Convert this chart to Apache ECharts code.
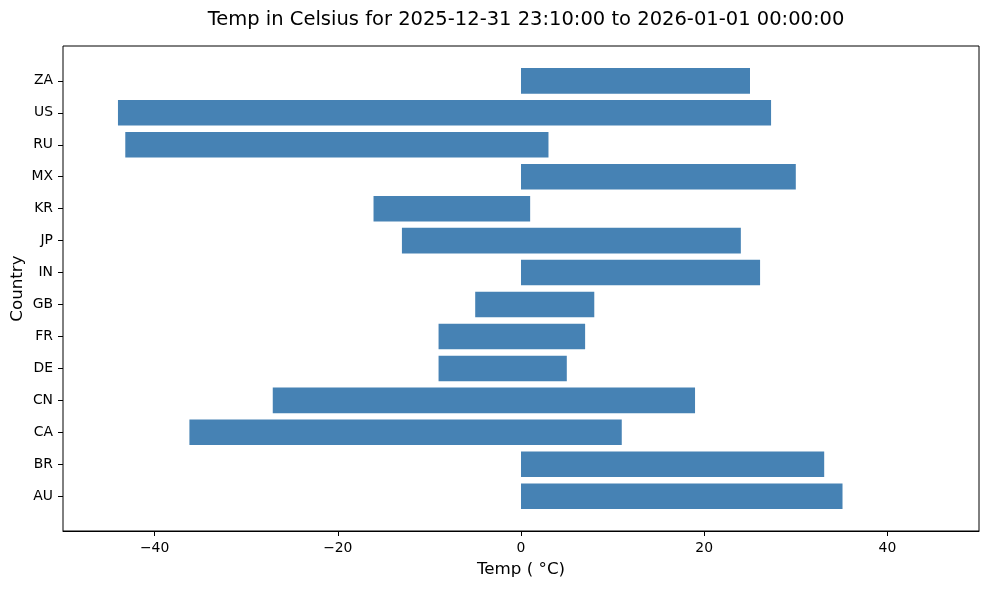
<!DOCTYPE html>
<html>
<head>
<meta charset="utf-8">
<script src="https://cdn.jsdelivr.net/npm/echarts@6/dist/echarts.min.js"></script>
<style>html,body{margin:0;padding:0;background:#fff;}#c{width:989px;height:590px;}</style>
</head>
<body>
<div id="c"></div>
<script>
const countries = ['AU','BR','CA','CN','DE','FR','GB','IN','JP','KR','MX','RU','US','ZA'];
const lowTemps  = [0, 0, -36.2, -27.1, -9, -9, -5, 0, -13, -16.1, 0, -43.2, -44, 0];
const highTemps = [35.1, 33.1, 11, 19, 5, 7, 8, 26.1, 24, 1, 30, 3, 27.3, 25];
const titleText = 'Temp in Celsius for 2025-12-31 23:10:00 to 2026-01-01 00:00:00';

const FONT = 'DejaVu Sans';
const chart = echarts.init(document.getElementById('c'), null, {renderer: 'canvas'});
const data = countries.map((c, i) => [lowTemps[i], highTemps[i], i]);

chart.setOption({
  animation: false,
  backgroundColor: '#fff',
  title: {
    text: titleText, left: 521, top: 5, textAlign: 'center',
    textStyle: {fontFamily: FONT, fontSize: 19.5, fontWeight: 'normal', color: '#000'}
  },
  grid: [
    {left: 63, right: 10, top: 64.9, bottom: 77.8, show: false, containLabel: false, outerBoundsMode: 'none'},
    {left: 63, right: 10, top: 46, bottom: 59, show: true, borderColor: '#000', borderWidth: 1,
     backgroundColor: 'transparent', containLabel: false, outerBoundsMode: 'none'}
  ],
  xAxis: [
    {gridIndex: 0, type: 'value', min: -50, max: 50, show: false},
    {gridIndex: 1, type: 'value', min: -50, max: 50,
     splitLine: {show: false},
     axisLine: {show: true, onZero: false, lineStyle: {color: '#000', width: 1}},
     axisTick: {show: true, length: 5, lineStyle: {color: '#000'}},
     axisLabel: {showMinLabel: false, showMaxLabel: false, margin: 10, color: '#000', fontFamily: FONT, fontSize: 13.9,
       formatter: v => String(v).replace('-', '\u2212')},
     name: 'Temp ( \u00b0C)', nameLocation: 'middle', nameGap: 30, nameMoveOverlap: false,
     nameTextStyle: {fontFamily: FONT, fontSize: 16.7, color: '#000'}}
  ],
  yAxis: [
    {gridIndex: 0, type: 'category', data: countries, boundaryGap: true,
     axisLine: {show: false, onZero: false},
     axisTick: {show: true, alignWithLabel: true, length: 5, lineStyle: {color: '#000'}},
     axisLabel: {margin: 10, color: '#000', fontFamily: FONT, fontSize: 13.9},
     splitLine: {show: false},
     name: 'Country', nameLocation: 'middle', nameGap: 37, nameRotate: 90, nameMoveOverlap: false,
     nameTextStyle: {fontFamily: FONT, fontSize: 16.7, color: '#000'}},
    {gridIndex: 1, type: 'value', min: 0, max: 1, show: false}
  ],
  series: [{
    type: 'custom',
    xAxisIndex: 0, yAxisIndex: 0,
    data: data,
    encode: {x: [0, 1], y: 2},
    renderItem: function (params, api) {
      const lo = api.value(0), hi = api.value(1), idx = api.value(2);
      const p1 = api.coord([lo, idx]);
      const p2 = api.coord([hi, idx]);
      const h = api.size([0, 1])[1] * 0.8;
      return {
        type: 'rect',
        shape: {x: p1[0], y: p1[1] - h / 2, width: p2[0] - p1[0], height: h},
        style: {fill: '#4682B4', stroke: null, lineWidth: 0}
      };
    }
  }]
});
</script>
</body>
</html>
